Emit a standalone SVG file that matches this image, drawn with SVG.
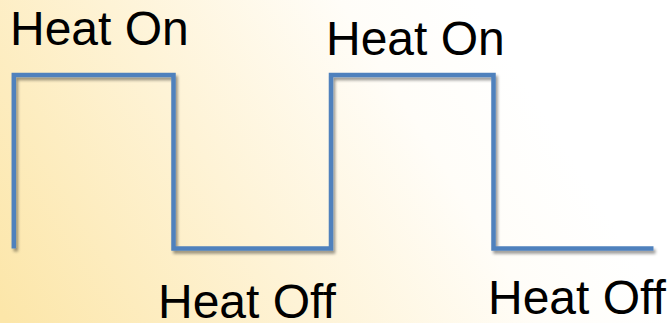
<svg xmlns="http://www.w3.org/2000/svg" width="667" height="323" viewBox="0 0 667 323">
  <defs>
    <linearGradient id="bg" gradientUnits="userSpaceOnUse" x1="0" y1="310" x2="480" y2="10">
      <stop offset="0" stop-color="#FCE6A9"/>
      <stop offset="0.45" stop-color="#FEF3D6"/>
      <stop offset="0.8" stop-color="#FFFDF8"/>
      <stop offset="1" stop-color="#FFFFFF"/>
    </linearGradient>
    <filter id="shadow" x="-5%" y="-5%" width="110%" height="115%">
      <feGaussianBlur in="SourceAlpha" stdDeviation="1.6"/>
      <feOffset dx="1.5" dy="2.5" result="b"/>
      <feComponentTransfer><feFuncA type="linear" slope="0.4"/></feComponentTransfer>
      <feMerge><feMergeNode/><feMergeNode in="SourceGraphic"/></feMerge>
    </filter>
    <style>
      .wave { fill: none; stroke: #4F81BD; stroke-width: 4.5; stroke-linejoin: miter; stroke-linecap: butt; }
      .label { font-family: "Liberation Sans", Arial, sans-serif; font-size: 48px; fill: #000000; }
    </style>
  </defs>

  <rect width="667" height="323" fill="url(#bg)"/>

  <!-- square wave -->
  <g id="waveform" filter="url(#shadow)">
    <path class="wave" d="M13.8,248.5 V75 H173.5 V248.5 H331 V75 H493.5 V248.5 H653.5"/>
  </g>

  <g id="label-on-1"><text class="label" x="10" y="45.3">Heat On</text></g>
  <g id="label-on-2"><text class="label" x="326" y="55">Heat On</text></g>
  <g id="label-off-1"><text class="label" x="158" y="317.7">Heat Off</text></g>
  <g id="label-off-2"><text class="label" x="488" y="314.3">Heat Off</text></g>
</svg>
